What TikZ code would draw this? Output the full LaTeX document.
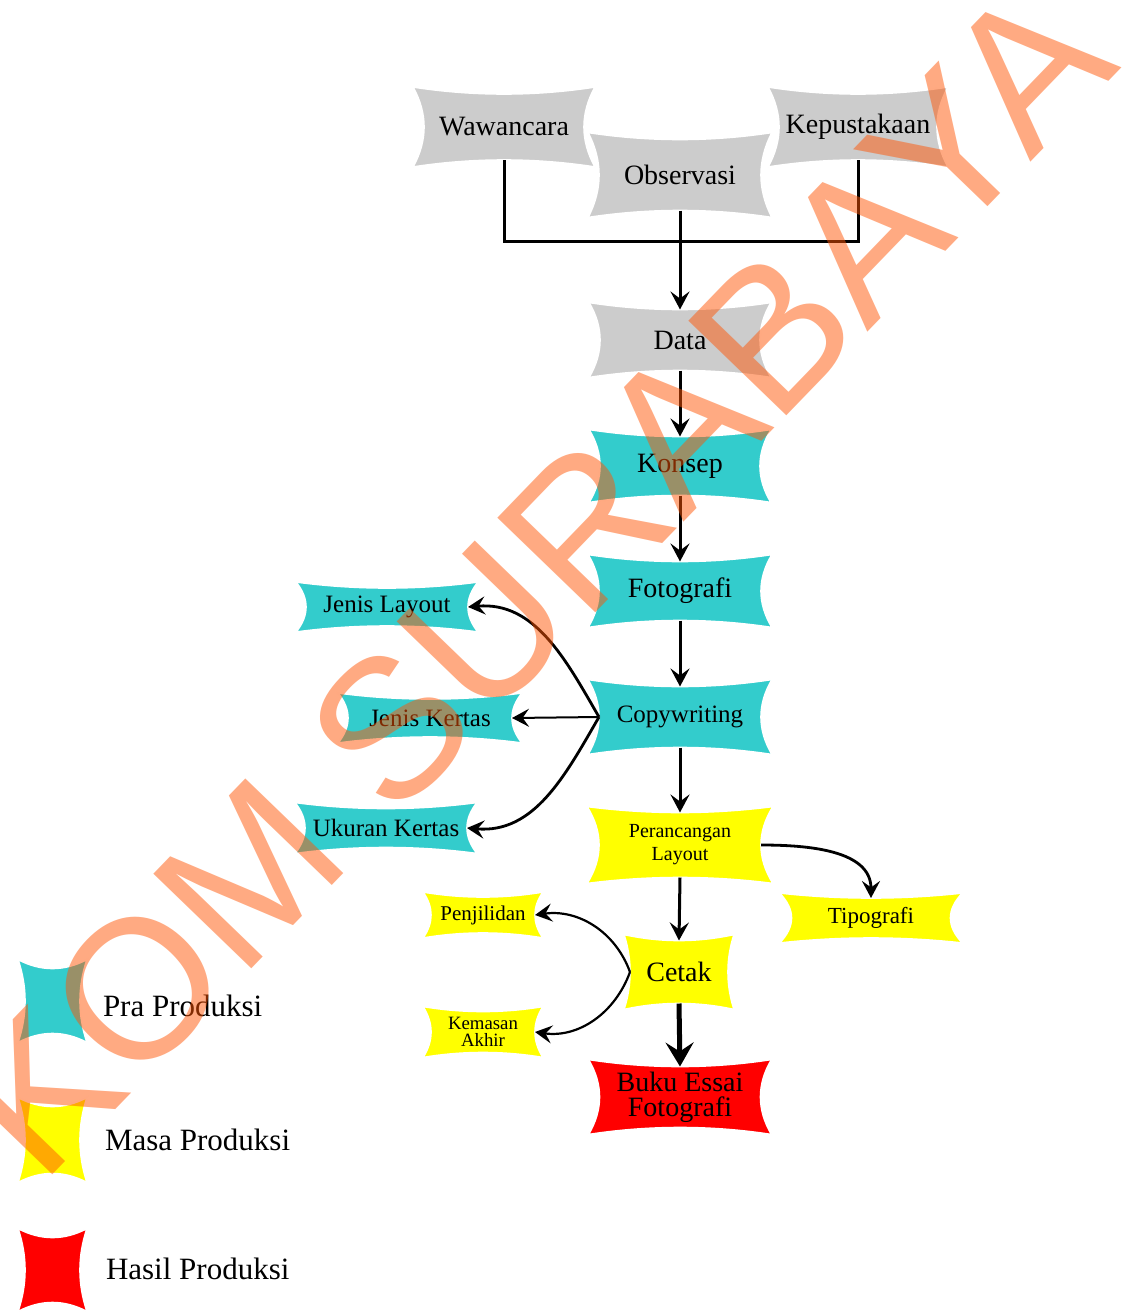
\documentclass[tikz,border=0pt]{standalone}
\usepackage{fontspec}
\setmainfont{Liberation Serif}
\newfontfamily\wmfont{Liberation Sans}
\usetikzlibrary{arrows.meta,calc,backgrounds}

\definecolor{grayfill}{RGB}{204,204,204}
\definecolor{tealfill}{RGB}{51,204,204}
\definecolor{yellowfill}{RGB}{255,255,0}
\definecolor{redfill}{RGB}{255,0,0}
\definecolor{wmorange}{RGB}{255,85,5}

% concave outline round a node: name, colour, side sag, top sag
\newcommand{\concavefill}[4]{%
  \coordinate (nw) at ([shift={(-#3,#4)}]#1.north west);
  \coordinate (ne) at ([shift={(#3,#4)}]#1.north east);
  \coordinate (se) at ([shift={(#3,-#4)}]#1.south east);
  \coordinate (sw) at ([shift={(-#3,-#4)}]#1.south west);
  \coordinate (pn) at ([shift={(0,-#4)}]#1.north);
  \coordinate (pe) at ([shift={(-#3,0)}]#1.east);
  \coordinate (ps) at ([shift={(0,#4)}]#1.south);
  \coordinate (pw) at ([shift={(#3,0)}]#1.west);
  \fill[#2, draw=white, line width=0.8pt]
    (nw) .. controls ($(nw)!.667!(pn)$) and ($(ne)!.667!(pn)$) .. (ne)
         .. controls ($(ne)!.667!(pe)$) and ($(se)!.667!(pe)$) .. (se)
         .. controls ($(se)!.667!(ps)$) and ($(sw)!.667!(ps)$) .. (sw)
         .. controls ($(sw)!.667!(pw)$) and ($(nw)!.667!(pw)$) .. (nw) -- cycle;
}

\begin{document}
\begin{tikzpicture}[
    x=0.5pt, y=0.5pt,
    every node/.style={font=\fontsize{14}{14}\selectfont, inner sep=0pt, outer sep=0pt},
    box/.style={minimum width=80pt, minimum height=30.5pt, align=center},
    sidebox/.style={minimum width=81pt, minimum height=19pt, align=center, font=\fontsize{12.5}{13}\selectfont},
    key/.style={minimum width=27.5pt, minimum height=32.5pt},
    keytext/.style={anchor=west, font=\fontsize{15.5}{15.5}\selectfont},
    link/.style={line width=1.5pt},
    arr/.style={-{Stealth[length=9pt,width=9.5pt,inset=3.5pt]}, line width=1.5pt},
    sidearr/.style={-{Stealth[length=8.5pt,width=9pt,inset=3.2pt]}, line width=1.4pt},
    watermark/.style={font=\wmfont\fontsize{99}{99}\selectfont, text=wmorange, opacity=0.5, rotate=46, anchor=base east},
]
\useasboundingbox (0,0) rectangle (1130,-1312);

% sources
\node[box, minimum height=33pt] (waw) at (504,-127) {Wawancara};
\node[box, minimum width=81pt, minimum height=35.5pt] (obs) at (680,-175) {Observasi};
\node[box, minimum width=79pt, minimum height=33pt] (kep) at (858,-127) {Kepustakaan};

% main column
\node[box] (data) at (680,-340) {Data};
\node[box, minimum height=29.5pt] (konsep) at (680,-466) {Konsep};
\node[box, minimum width=81pt, minimum height=29.5pt] (foto) at (680,-591) {Fotografi};
\node[box, minimum width=81pt, font=\fontsize{12.5}{13}\selectfont] (copy) at (680,-717) {Copywriting};
\node[box, minimum width=81pt, minimum height=32.5pt, font=\fontsize{10}{11.5}\selectfont] (peranc) at (680,-845) {Perancangan\\Layout};
\node[box, minimum width=49pt, minimum height=31.5pt] (cetak) at (679,-972) {Cetak};
\node[box, minimum width=80.5pt, font=\fontsize{14}{12.5}\selectfont] (buku) at (680,-1097) {Buku Essai\\Fotografi};

% side boxes
\node[sidebox] (jlay) at (387,-607) {Jenis Layout};
\node[sidebox, minimum width=82pt] (jker) at (430,-718) {Jenis Kertas};
\node[sidebox, minimum height=19.5pt] (ukur) at (386,-828) {Ukuran Kertas};
\node[sidebox, minimum width=79.5pt, minimum height=20pt, font=\fontsize{11.5}{12}\selectfont] (tipo) at (871,-918) {Tipografi};
\node[sidebox, minimum width=52pt, minimum height=18pt, font=\fontsize{10.5}{11}\selectfont] (penj) at (483,-915) {Penjilidan};
\node[sidebox, minimum width=52pt, minimum height=20.5pt, font=\fontsize{9.4}{8.5}\selectfont] (kemas) at (483,-1032) {Kemasan\\Akhir};

% legend
\node[key] (pra) at (52.5,-1001) {};
\node[key, minimum height=33.5pt] (masa) at (52.5,-1140) {};
\node[key] (hasil) at (52.5,-1270) {};
\node[keytext] (prat) at (103,-1006) {Pra Produksi};
\node[keytext] (masat) at (105,-1140) {Masa Produksi};
\node[keytext] (hasilt) at (106,-1269) {Hasil Produksi};

% shapes behind the texts
\begin{scope}[on background layer]
  \foreach \n/\col/\sx/\sy in {waw/grayfill/11/7, kep/grayfill/11/7, obs/grayfill/11/7,
      data/grayfill/11/7, konsep/tealfill/11/7, foto/tealfill/11/7, copy/tealfill/11/7,
      jlay/tealfill/10/6, jker/tealfill/10/6, ukur/tealfill/10/6,
      peranc/yellowfill/12/6, tipo/yellowfill/12/5, cetak/yellowfill/6/6,
      penj/yellowfill/8/5, kemas/yellowfill/8/5, buku/redfill/11/7,
      pra/tealfill/7/9, masa/yellowfill/7/9, hasil/redfill/7/9}{
    \concavefill{\n}{\col}{\sx}{\sy}
  }
\end{scope}

% connectors
\coordinate (join) at (680,-241);
\draw[link] (waw.south) |- (join) -| (kep.south);
\draw[arr] (obs.south) -- (data.north);
\draw[arr] (data.south) -- (konsep.north);
\draw[arr] (konsep.south) -- (foto.north);
\draw[arr] (foto.south) -- (copy.north);
\draw[arr] (copy.south) -- (peranc.north);
\draw[arr] (peranc.south) -- (cetak.north);
\draw[-{Stealth[length=12pt,width=14pt,inset=4.5pt]}, line width=2.5pt] (cetak.south) -- (buku.north);
\draw[sidearr] (copy.west) to[out=120, in=5] (jlay.east);
\draw[sidearr, line width=1pt] (copy.west) -- (jker.east);
\draw[sidearr] (copy.west) to[out=-120, in=-5] (ukur.east);
\draw[sidearr] (peranc.east) to[out=0, in=90] (tipo.north);
\draw[sidearr, line width=1.1pt] (cetak.west) to[out=110, in=8] (penj.east);
\draw[sidearr, line width=1.1pt] (cetak.west) to[out=-110, in=-8] (kemas.east);

% watermark
\node[watermark] (wm) at (1122,-68) {KOM SURABAYA};
\end{tikzpicture}
\end{document}
